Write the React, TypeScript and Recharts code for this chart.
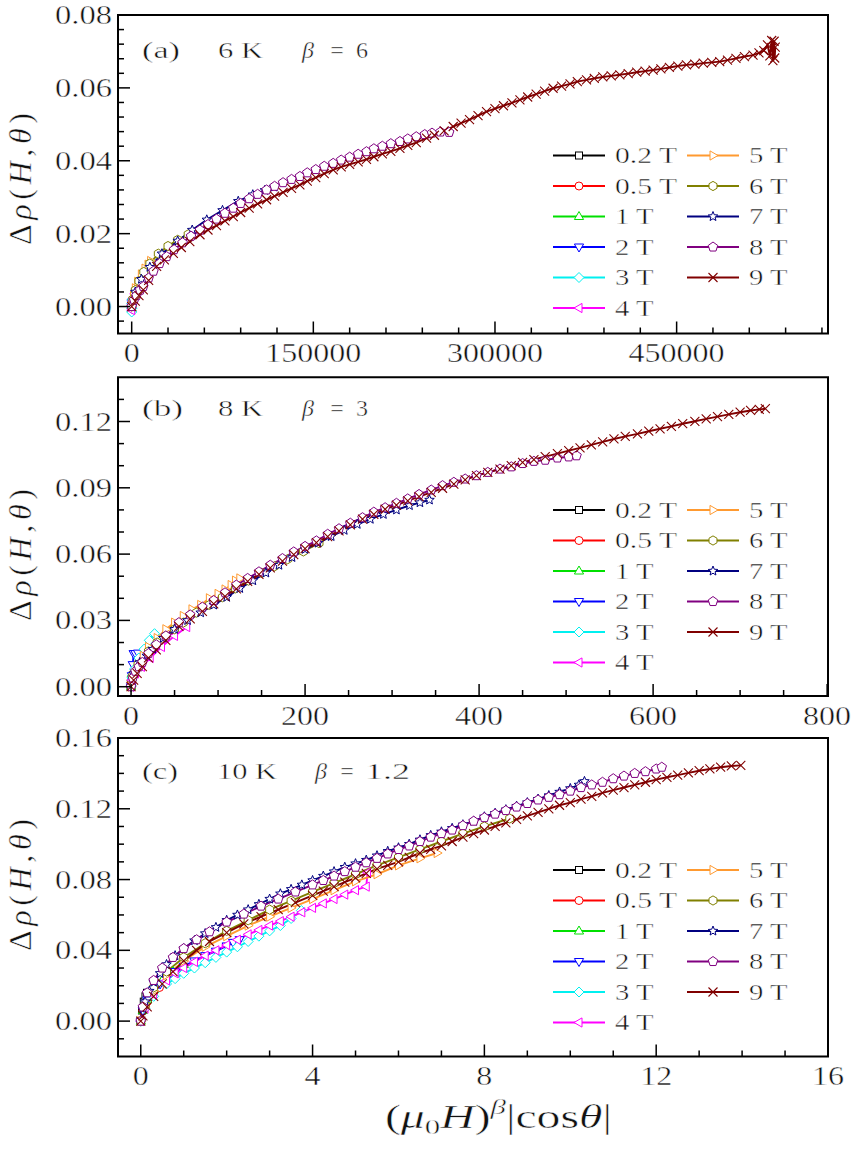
import React from 'react';
import { LineChart, Line, XAxis, YAxis, ReferenceArea } from 'recharts';

type Pt = [number, number];

// ---------- legend / series identity ----------
const FIELD_LABELS = ['0.2 T', '0.5 T', '1 T', '2 T', '3 T', '4 T', '5 T', '6 T', '7 T', '8 T', '9 T'];
const COLORS = ['#000000', '#ff0000', '#00e000', '#0000ff', '#00f0f0', '#ff00ff', '#ff9a30', '#808000', '#000080', '#800080', '#800000'];
const MARKERS = ['square', 'circle', 'triUp', 'triDown', 'diamond', 'triLeft', 'triRight', 'hexagon', 'star', 'pentagon', 'x'];

// ---------- panel (a): 6 K, beta = 6 ----------
const a02: Pt[] = [[0, 0], [0.00002, 0.0002], [0.000064, 0.0003]];
const a05: Pt[] = [[0, 0], [0.008, 0.0004], [0.0156, 0.0006]];
const a1: Pt[] = [[0, -0.0005], [0.5, 0.0003], [1, 0.0008]];
const a2: Pt[] = [[0, -0.001], [20, 0], [40, 0.0008], [64, 0.0012]];
const a3: Pt[] = [[0, -0.0015], [100, -0.0005], [300, 0.0008], [500, 0.0015], [729, 0.002]];
const a4: Pt[] = [[0, -0.001], [300, 0.0005], [800, 0.0015], [1500, 0.0025], [2500, 0.0035], [3300, 0.004], [4096, 0.0048]];
const a5: Pt[] = [[0, 0], [500, 0.001], [1500, 0.003], [3000, 0.005], [5000, 0.0068], [8000, 0.0088], [11000, 0.0104], [13500, 0.0115], [15625, 0.0125]];
const a6: Pt[] = [[0, 0], [1000, 0.002], [3000, 0.0045], [6000, 0.007], [10000, 0.0095], [15000, 0.0118], [22000, 0.0145], [30000, 0.0166], [38000, 0.0183], [46656, 0.0198]];
const a7: Pt[] = [[0, 0], [3000, 0.004], [8000, 0.0075], [15000, 0.0108], [25000, 0.0145], [38000, 0.018], [50000, 0.021], [62000, 0.0238], [75000, 0.0264], [88000, 0.0289], [100000, 0.0307], [110000, 0.0319], [117649, 0.0328]];
const a8: Pt[] = [[0, 0], [2000, 0.0018], [4000, 0.003], [7000, 0.0045], [9600, 0.0055], [14000, 0.0078], [18000, 0.0097], [23000, 0.0118], [28900, 0.0137], [35000, 0.0156], [42000, 0.0175], [49000, 0.0193], [56400, 0.021], [63000, 0.0225], [70000, 0.024], [77000, 0.0256], [83900, 0.027], [90000, 0.0283], [97000, 0.0296], [104000, 0.0308], [111400, 0.032], [118000, 0.033], [125000, 0.034], [132000, 0.0349], [138900, 0.0357], [145000, 0.0367], [152000, 0.0376], [159000, 0.0385], [166400, 0.0393], [173000, 0.0402], [180000, 0.041], [187000, 0.0418], [193900, 0.0425], [200000, 0.0433], [207000, 0.044], [214000, 0.0447], [221500, 0.0453], [228000, 0.046], [235000, 0.0466], [242000, 0.0472], [248000, 0.0476], [255000, 0.0479], [262144, 0.0478]];
const a9: Pt[] = [[0, 0], [3000, 0.0015], [6000, 0.003], [9600, 0.0046], [14000, 0.0072], [20600, 0.011], [27000, 0.0128], [34400, 0.0146], [41000, 0.0162], [48000, 0.0178], [56400, 0.0197], [63000, 0.021], [70000, 0.0222], [77000, 0.0235], [83900, 0.0247], [90000, 0.0258], [97000, 0.027], [104000, 0.0282], [111400, 0.0293], [118000, 0.0303], [125000, 0.0313], [132000, 0.0324], [138900, 0.0334], [145000, 0.0344], [152000, 0.0354], [159000, 0.0365], [166400, 0.0375], [173000, 0.0383], [180000, 0.039], [187000, 0.0397], [193900, 0.0404], [200000, 0.0411], [207000, 0.0419], [214000, 0.0426], [221500, 0.0434], [228000, 0.0442], [235000, 0.045], [243500, 0.0462], [250000, 0.047], [258000, 0.0482], [265500, 0.0494], [272000, 0.0503], [279000, 0.0513], [286000, 0.0524], [293000, 0.0535], [300000, 0.0543], [307000, 0.0551], [314000, 0.0559], [320600, 0.0567], [327000, 0.0575], [334000, 0.0583], [341000, 0.0591], [348000, 0.0599], [355000, 0.0605], [362000, 0.0611], [368000, 0.0617], [375600, 0.0622], [382000, 0.0626], [389000, 0.063], [396000, 0.0633], [403100, 0.0636], [410000, 0.0639], [417000, 0.0643], [424000, 0.0646], [430600, 0.0649], [437000, 0.0652], [444000, 0.0656], [451000, 0.066], [458100, 0.0663], [465000, 0.0665], [472000, 0.0668], [479000, 0.067], [485600, 0.0672], [492000, 0.0676], [499000, 0.0681], [506000, 0.0686], [513100, 0.069], [518000, 0.0696], [522000, 0.0702], [525000, 0.0718], [527000, 0.0688], [528500, 0.073], [529500, 0.0675], [530500, 0.0728], [531000, 0.0682], [531441, 0.0712]];

// ---------- panel (b): 8 K, beta = 3 ----------
const b02: Pt[] = [[0, 0], [0.004, 0.001], [0.008, 0.0015]];
const b05: Pt[] = [[0, 0], [0.06, 0.002], [0.125, 0.003]];
const b1: Pt[] = [[0, 0], [0.3, 0.002], [0.6, 0.004], [1, 0.006]];
const b2: Pt[] = [[0, 0], [1, 0.005], [2, 0.01], [3, 0.015], [5, 0.015], [8, 0.0152]];
const b3: Pt[] = [[0, 0], [1, 0.004], [4, 0.008], [9, 0.013], [15, 0.017], [21, 0.021], [27, 0.024]];
const b4: Pt[] = [[0, 0], [1, 0.003], [5, 0.006], [12, 0.009], [22, 0.013], [35, 0.018], [50, 0.023], [64, 0.027]];
const b5: Pt[] = [[0, 0], [2, 0.005], [8, 0.01], [14, 0.014], [20, 0.018], [30, 0.022], [40, 0.026], [50, 0.029], [60, 0.032], [70, 0.035], [80, 0.037], [90, 0.04], [100, 0.042], [108, 0.044], [115, 0.046], [120, 0.048], [125, 0.049]];
const b6: Pt[] = [[0, 0], [2, 0.005], [8, 0.01], [20, 0.016], [30, 0.02], [40, 0.023], [50, 0.026], [60, 0.029], [75, 0.0335], [90, 0.037], [105, 0.0405], [120, 0.0445], [135, 0.048], [150, 0.0515], [165, 0.0545], [180, 0.0577], [198, 0.0612], [216, 0.065]];
const b7: Pt[] = [[0, 0], [3, 0.006], [10, 0.011], [18, 0.014], [25, 0.017], [37, 0.022], [50, 0.026], [65, 0.03], [80, 0.0335], [95, 0.037], [110, 0.0405], [125, 0.0445], [140, 0.048], [155, 0.0515], [170, 0.055], [185, 0.0585], [200, 0.0622], [215, 0.065], [230, 0.068], [245, 0.0708], [260, 0.0735], [275, 0.0758], [290, 0.078], [305, 0.08], [320, 0.082], [332, 0.0833], [343, 0.0845]];
const b8: Pt[] = [[0, 0], [2, 0.004], [5, 0.007], [9, 0.009], [13, 0.011], [20, 0.015], [29, 0.019], [40, 0.023], [55, 0.029], [68, 0.0325], [82, 0.036], [95, 0.039], [108, 0.0425], [121, 0.046], [134, 0.049], [147, 0.052], [160, 0.055], [174, 0.058], [187, 0.061], [200, 0.0635], [213, 0.066], [226, 0.069], [239, 0.0715], [252, 0.074], [266, 0.0765], [279, 0.079], [292, 0.081], [305, 0.083], [318, 0.085], [331, 0.087], [345, 0.089], [358, 0.091], [371, 0.0925], [384, 0.094], [397, 0.0955], [410, 0.097], [424, 0.0985], [437, 0.0995], [450, 0.101], [463, 0.102], [476, 0.1025], [490, 0.1035], [503, 0.104], [512, 0.1045]];
const b9: Pt[] = [[0, 0], [3, 0.003], [7, 0.006], [13, 0.0091], [20, 0.013], [29, 0.0167], [40, 0.021], [55, 0.0273], [68, 0.0307], [82, 0.0341], [95, 0.0375], [108, 0.0409], [121, 0.0443], [134, 0.0477], [147, 0.0508], [160, 0.0538], [174, 0.0568], [187, 0.0598], [200, 0.0625], [213, 0.0652], [226, 0.0679], [239, 0.0705], [252, 0.0732], [266, 0.0758], [279, 0.078], [292, 0.0803], [305, 0.0822], [318, 0.0841], [331, 0.086], [345, 0.0879], [358, 0.0898], [371, 0.0917], [384, 0.0936], [397, 0.0955], [410, 0.097], [424, 0.0985], [437, 0.1], [450, 0.1015], [463, 0.1028], [476, 0.1041], [490, 0.1055], [503, 0.1068], [516, 0.1081], [529, 0.1094], [542, 0.1108], [555, 0.1121], [568, 0.1133], [582, 0.1144], [595, 0.1156], [608, 0.1167], [621, 0.1178], [634, 0.119], [648, 0.1201], [661, 0.1212], [674, 0.1222], [687, 0.1232], [700, 0.1242], [712, 0.125], [722, 0.1255], [729, 0.1258]];

// ---------- panel (c): 10 K, beta = 1.2 ----------
const c02: Pt[] = [[0, 0], [0.03, 0.006], [0.07, 0.011], [0.11, 0.014], [0.145, 0.016]];
const c05: Pt[] = [[0, 0], [0.05, 0.006], [0.15, 0.011], [0.3, 0.016], [0.435, 0.019]];
const c1: Pt[] = [[0, 0], [0.05, 0.006], [0.15, 0.012], [0.3, 0.018], [0.5, 0.023], [0.75, 0.028], [1, 0.032]];
const c2: Pt[] = [[0, 0], [0.05, 0.006], [0.15, 0.012], [0.3, 0.017], [0.45, 0.021], [0.6, 0.024], [0.8, 0.028], [1, 0.031], [1.25, 0.034], [1.5, 0.037], [1.75, 0.0395], [2, 0.0425], [2.15, 0.0445], [2.3, 0.046]];
const c3: Pt[] = [[0, 0], [0.1, 0.007], [0.3, 0.014], [0.6, 0.021], [0.8, 0.024], [1, 0.027], [1.25, 0.03], [1.5, 0.033], [1.75, 0.036], [2, 0.039], [2.25, 0.042], [2.5, 0.045], [2.75, 0.048], [3, 0.051], [3.25, 0.054], [3.5, 0.058], [3.74, 0.0625]];
const c4: Pt[] = [[0, 0], [0.1, 0.007], [0.3, 0.015], [0.6, 0.023], [0.8, 0.027], [1, 0.03], [1.25, 0.0335], [1.5, 0.037], [1.75, 0.04], [2, 0.043], [2.25, 0.046], [2.5, 0.049], [2.75, 0.0515], [3, 0.054], [3.25, 0.0565], [3.5, 0.059], [3.75, 0.0615], [4, 0.064], [4.25, 0.0665], [4.5, 0.069], [4.75, 0.0715], [5, 0.074], [5.25, 0.076], [5.28, 0.084]];
const c5: Pt[] = [[0, 0], [0.1, 0.008], [0.3, 0.017], [0.6, 0.026], [1, 0.034], [1.5, 0.042], [2, 0.048], [2.5, 0.054], [3, 0.059], [3.5, 0.064], [4, 0.069], [4.5, 0.074], [5, 0.079], [5.5, 0.083], [6, 0.088], [6.5, 0.092], [6.9, 0.095]];
const c6: Pt[] = [[0, 0], [0.1, 0.009], [0.3, 0.019], [0.6, 0.028], [1, 0.036], [1.5, 0.044], [2, 0.051], [2.5, 0.057], [3, 0.063], [3.5, 0.068], [4, 0.073], [4.5, 0.078], [5, 0.083], [5.5, 0.088], [6, 0.0925], [6.5, 0.097], [7, 0.1015], [7.5, 0.106], [8, 0.11], [8.59, 0.1145]];
const c7: Pt[] = [[0, 0], [0.05, 0.007], [0.1, 0.011], [0.2, 0.017], [0.3, 0.022], [0.45, 0.027], [0.6, 0.032], [0.8, 0.037], [1, 0.041], [1.25, 0.0455], [1.5, 0.0495], [1.75, 0.053], [2, 0.057], [2.25, 0.06], [2.5, 0.063], [2.75, 0.066], [3, 0.069], [3.25, 0.072], [3.5, 0.0745], [3.75, 0.077], [4, 0.0795], [4.25, 0.082], [4.5, 0.0845], [4.75, 0.087], [5, 0.089], [5.25, 0.091], [5.5, 0.0935], [5.75, 0.096], [6, 0.098], [6.25, 0.1], [6.5, 0.1025], [6.75, 0.105], [7, 0.107], [7.25, 0.109], [7.5, 0.111], [7.75, 0.113], [8, 0.1155], [8.25, 0.1175], [8.5, 0.1195], [8.75, 0.1215], [9, 0.1235], [9.25, 0.1255], [9.5, 0.1275], [9.75, 0.1295], [10, 0.1315], [10.2, 0.1335], [10.33, 0.1355]];
const c8: Pt[] = [[0, 0], [0.05, 0.008], [0.15, 0.016], [0.3, 0.023], [0.5, 0.03], [0.75, 0.036], [1, 0.041], [1.3, 0.046], [1.6, 0.0505], [2, 0.056], [2.4, 0.0605], [2.8, 0.065], [3.2, 0.069], [3.6, 0.073], [4, 0.077], [4.25, 0.0795], [4.5, 0.082], [4.75, 0.0845], [5, 0.087], [5.25, 0.0895], [5.5, 0.092], [5.75, 0.0945], [6, 0.097], [6.25, 0.099], [6.5, 0.1015], [6.75, 0.104], [7, 0.106], [7.25, 0.108], [7.5, 0.1105], [7.75, 0.113], [8, 0.115], [8.25, 0.117], [8.5, 0.119], [8.75, 0.121], [9, 0.123], [9.25, 0.125], [9.5, 0.1265], [9.75, 0.128], [10, 0.13], [10.25, 0.132], [10.5, 0.1335], [10.75, 0.135], [11, 0.137], [11.25, 0.1385], [11.5, 0.14], [11.75, 0.141], [12, 0.1425], [12.13, 0.1435]];
const c9: Pt[] = [[0, 0], [0.05, 0.003], [0.15, 0.008], [0.3, 0.014], [0.5, 0.021], [0.75, 0.028], [1, 0.034], [1.3, 0.04], [1.6, 0.045], [2, 0.05], [2.4, 0.055], [2.8, 0.059], [3.2, 0.063], [3.6, 0.067], [4, 0.071], [4.25, 0.0735], [4.5, 0.076], [4.75, 0.0785], [5, 0.081], [5.25, 0.0835], [5.5, 0.086], [5.75, 0.088], [6, 0.09], [6.25, 0.0925], [6.5, 0.095], [6.75, 0.097], [7, 0.099], [7.25, 0.1015], [7.5, 0.104], [7.75, 0.106], [8, 0.108], [8.25, 0.11], [8.5, 0.112], [8.75, 0.114], [9, 0.116], [9.25, 0.118], [9.5, 0.12], [9.75, 0.122], [10, 0.1235], [10.25, 0.1255], [10.5, 0.127], [10.75, 0.129], [11, 0.1305], [11.25, 0.132], [11.5, 0.1335], [11.75, 0.135], [12, 0.1365], [12.25, 0.1378], [12.5, 0.139], [12.75, 0.1403], [13, 0.1415], [13.25, 0.1425], [13.5, 0.1435], [13.75, 0.1442], [13.97, 0.1445]];

// ---------- axes: tick values and labels ----------
const aXMajor = [0, 150000, 300000, 450000];
const aXLabels = ['0', '150000', '300000', '450000'];
const aYMajor = [0, 0.02, 0.04, 0.06, 0.08];
const aYLabels = ['0.00', '0.02', '0.04', '0.06', '0.08'];
const bXMajor = [0, 200, 400, 600, 800];
const bXLabels = ['0', '200', '400', '600', '800'];
const bYMajor = [0, 0.03, 0.06, 0.09, 0.12];
const bYLabels = ['0.00', '0.03', '0.06', '0.09', '0.12'];
const cXMajor = [0, 4, 8, 12, 16];
const cXLabels = ['0', '4', '8', '12', '16'];
const cYMajor = [0, 0.04, 0.08, 0.12, 0.16];
const cYLabels = ['0.00', '0.04', '0.08', '0.12', '0.16'];

const FONT = '"Liberation Serif", "Times New Roman", serif';
// a thin white outline slightly lightens the stretched glyphs
const THIN = { stroke: '#ffffff', strokeWidth: 0.45 };

function minorTicks(start: number, end: number, step: number): number[] {
  const out: number[] = [];
  const n = Math.round((end - start) / step);
  for (let i = 0; i <= n; i++) out.push(+(start + i * step).toFixed(8));
  return out;
}

function labelWidth(s: string): number {
  let w = 0;
  for (const ch of s) w += ch === '.' ? 9 : 16;
  return w;
}

function poly(cx: number, cy: number, pts: number[][]): string {
  return pts.map(([dx, dy]) => `${cx + dx},${cy + dy}`).join(' ');
}

function regular(cx: number, cy: number, n: number, r: number, rot: number): string {
  const pts: number[][] = [];
  for (let i = 0; i < n; i++) {
    const a = rot + (i * 2 * Math.PI) / n;
    pts.push([r * Math.cos(a), r * Math.sin(a)]);
  }
  return poly(cx, cy, pts);
}

function starPts(cx: number, cy: number, ro: number, ri: number): string {
  const pts: number[][] = [];
  for (let i = 0; i < 10; i++) {
    const a = -Math.PI / 2 + (i * Math.PI) / 5;
    const r = i % 2 === 0 ? ro : ri;
    pts.push([r * Math.cos(a), r * Math.sin(a)]);
  }
  return poly(cx, cy, pts);
}

function Marker({ cx, cy, kind, color }: { cx: number; cy: number; kind: string; color: string }) {
  if (cx == null || cy == null || isNaN(cx) || isNaN(cy)) return null;
  const c = { fill: '#ffffff', stroke: color, strokeWidth: 1 };
  switch (kind) {
    case 'square':
      return <rect x={cx - 3.5} y={cy - 3.5} width={7} height={7} {...c} />;
    case 'circle':
      return <circle cx={cx} cy={cy} r={4} {...c} />;
    case 'triUp':
      return <polygon points={poly(cx, cy, [[0, -5], [4.6, 3], [-4.6, 3]])} {...c} />;
    case 'triDown':
      return <polygon points={poly(cx, cy, [[0, 5], [4.6, -3], [-4.6, -3]])} {...c} />;
    case 'diamond':
      return <polygon points={poly(cx, cy, [[0, -5], [5, 0], [0, 5], [-5, 0]])} {...c} />;
    case 'triLeft':
      return <polygon points={poly(cx, cy, [[-5, 0], [3, -4.6], [3, 4.6]])} {...c} />;
    case 'triRight':
      return <polygon points={poly(cx, cy, [[5, 0], [-3, -4.6], [-3, 4.6]])} {...c} />;
    case 'hexagon':
      return <polygon points={regular(cx, cy, 6, 4.6, -Math.PI / 2)} {...c} />;
    case 'star':
      return <polygon points={starPts(cx, cy, 5, 2.2)} {...c} />;
    case 'pentagon':
      return <polygon points={regular(cx, cy, 5, 5, -Math.PI / 2)} {...c} />;
    case 'x':
    default:
      return (
        <path d={`M${cx - 4.5},${cy - 4.5}L${cx + 4.5},${cy + 4.5}M${cx - 4.5},${cy + 4.5}L${cx + 4.5},${cy - 4.5}`} stroke={color} strokeWidth={1.1} fill="none" />
      );
  }
}

function isMajorIdx(majors: number[], v: number): number {
  return majors.findIndex((m) => Math.abs(m - v) < 1e-9 * Math.max(1, Math.abs(m)));
}

function makeXTick(majors: number[], labels: string[]) {
  return (props: any) => {
    const { x, y, payload } = props;
    const idx = isMajorIdx(majors, payload.value);
    const len = idx >= 0 ? 12 : 6;
    return (
      <g>
        <line x1={x} y1={y} x2={x} y2={y - len} stroke="#000" strokeWidth={1.5} />
        {idx >= 0 && (
          <text x={x} y={y + 28.5} textAnchor="middle" fontFamily={FONT} fontSize={27} fill="#111" {...THIN}
            textLength={labelWidth(labels[idx])} lengthAdjust="spacingAndGlyphs">
            {labels[idx]}
          </text>
        )}
      </g>
    );
  };
}

function makeYTick(majors: number[], labels: string[]) {
  return (props: any) => {
    const { x, y, payload } = props;
    const idx = isMajorIdx(majors, payload.value);
    const len = idx >= 0 ? 12 : 6;
    return (
      <g>
        <line x1={x} y1={y} x2={x + len} y2={y} stroke="#000" strokeWidth={1.5} />
        {idx >= 0 && (
          <text x={x - 6} y={y + 9} textAnchor="end" fontFamily={FONT} fontSize={27} fill="#111" {...THIN}
            textLength={labelWidth(labels[idx])} lengthAdjust="spacingAndGlyphs">
            {labels[idx]}
          </text>
        )}
      </g>
    );
  };
}

type PanelProps = {
  series: Pt[][];
  xDomain: [number, number];
  yDomain: [number, number];
  xTicks: number[];
  yTicks: number[];
  xMajor: number[];
  xLabels: string[];
  yMajor: number[];
  yLabels: string[];
  height: number;
  top: number;
  bottom: number;
};

function Panel(p: PanelProps) {
  return (
    <LineChart width={855} height={p.height} margin={{ top: p.top, right: 27, bottom: p.bottom, left: 0 }}>
      <XAxis type="number" dataKey="x" domain={p.xDomain} allowDataOverflow ticks={p.xTicks} interval={0}
        tickLine={false} axisLine={false} tickSize={0} tickMargin={0} height={30} tick={makeXTick(p.xMajor, p.xLabels)} />
      <YAxis type="number" domain={p.yDomain} allowDataOverflow ticks={p.yTicks} interval={0}
        tickLine={false} axisLine={false} tickSize={0} tickMargin={0} width={118} tick={makeYTick(p.yMajor, p.yLabels)} />
      <ReferenceArea x1={p.xDomain[0]} x2={p.xDomain[1]} y1={p.yDomain[0]} y2={p.yDomain[1]}
        fill="none" fillOpacity={0} stroke="#000" strokeWidth={2} ifOverflow="visible" />
      {p.series.map((s, i) => (
        <Line key={FIELD_LABELS[i]} data={s.map(([x, y]) => ({ x, y }))} dataKey="y" type="linear"
          stroke={COLORS[i]} strokeWidth={1.9} isAnimationActive={false} activeDot={false} legendType="none"
          dot={(d: any) => <Marker key={`${i}-${d.index}`} cx={d.cx} cy={d.cy} kind={MARKERS[i]} color={COLORS[i]} />} />
      ))}
    </LineChart>
  );
}

function Legend({ rowTop }: { rowTop: number }) {
  const items: React.ReactNode[] = [];
  FIELD_LABELS.forEach((lab, i) => {
    const col = i < 6 ? 0 : 1;
    const row = i < 6 ? i : i - 6;
    const y = rowTop + row * 30.5;
    const x0 = col === 0 ? 553 : 687;
    items.push(
      <g key={lab}>
        <line x1={x0} y1={y} x2={x0 + 52} y2={y} stroke={COLORS[i]} strokeWidth={2} />
        <Marker cx={x0 + 26} cy={y} kind={MARKERS[i]} color={COLORS[i]} />
        <text x={x0 + 62} y={y + 7.8} fontFamily={FONT} fontSize={23} fill="#111" {...THIN}
          textLength={lab.length > 3 ? 62 : 38.5} lengthAdjust="spacingAndGlyphs">{lab}</text>
      </g>
    );
  });
  return <g>{items}</g>;
}

type Piece = { t: string; x: number; w?: number; italic?: boolean };

function Annot({ pieces, base }: { pieces: Piece[]; base: number }) {
  return (
    <g>
      {pieces.map((pc, k) => (
        <text key={k} x={pc.x} y={base} fontFamily={FONT} fontSize={24} fill="#111" {...THIN}
          fontStyle={pc.italic ? 'italic' : 'normal'}
          textAnchor={pc.w ? 'start' : 'middle'}
          {...(pc.w ? { textLength: pc.w, lengthAdjust: 'spacingAndGlyphs' } : {})}>
          {pc.t}
        </text>
      ))}
    </g>
  );
}

function YLabel({ cx, cy }: { cx: number; cy: number }) {
  return (
    <text transform={`translate(${cx},${cy}) rotate(-90)`} textAnchor="middle" fontFamily={FONT} fontSize={32}
      fill="#111" {...THIN} textLength={132} lengthAdjust="spacing">
      <tspan>Δ</tspan>
      <tspan fontStyle="italic">ρ</tspan>
      <tspan>(</tspan>
      <tspan fontStyle="italic">H</tspan>
      <tspan>,</tspan>
      <tspan fontStyle="italic">θ</tspan>
      <tspan>)</tspan>
    </text>
  );
}

export default function App() {
  const aSeries = [a02, a05, a1, a2, a3, a4, a5, a6, a7, a8, a9];
  const bSeries = [b02, b05, b1, b2, b3, b4, b5, b6, b7, b8, b9];
  const cSeries = [c02, c05, c1, c2, c3, c4, c5, c6, c7, c8, c9];

  return (
    <div style={{ position: 'absolute', left: 0, top: 0, width: 855, height: 1150, background: '#fff', overflow: 'hidden' }}>
      <div style={{ position: 'absolute', left: 0, top: 0 }}>
        <Panel series={aSeries} xDomain={[-11300, 575000]} yDomain={[-0.0074, 0.08]}
          xTicks={minorTicks(0, 570000, 30000)} yTicks={minorTicks(-0.004, 0.08, 0.004)}
          xMajor={aXMajor} xLabels={aXLabels} yMajor={aYMajor} yLabels={aYLabels}
          height={375} top={15} bottom={11.5} />
      </div>
      <div style={{ position: 'absolute', left: 0, top: 355 }}>
        <Panel series={bSeries} xDomain={[-15, 801]} yDomain={[-0.0042, 0.14]}
          xTicks={minorTicks(0, 800, 50)} yTicks={minorTicks(0, 0.13, 0.01)}
          xMajor={bXMajor} xLabels={bXLabels} yMajor={bYMajor} yLabels={bYLabels}
          height={385} top={22.3} bottom={14} />
      </div>
      <div style={{ position: 'absolute', left: 0, top: 712 }}>
        <Panel series={cSeries} xDomain={[-0.53, 16]} yDomain={[-0.02, 0.16]}
          xTicks={minorTicks(0, 16, 1)} yTicks={minorTicks(-0.01, 0.16, 0.01)}
          xMajor={cXMajor} xLabels={cXLabels} yMajor={cYMajor} yLabels={cYLabels}
          height={438} top={26} bottom={63.5} />
      </div>
      <svg width={855} height={1150} style={{ position: 'absolute', left: 0, top: 0, pointerEvents: 'none' }}>
        <Legend rowTop={155.5} />
        <Legend rowTop={510} />
        <Legend rowTop={870} />
        <Annot base={58} pieces={[{ t: '(a)', x: 142, w: 38 }, { t: '6 K', x: 218, w: 45 }, { t: 'β', x: 308, italic: true }, { t: '=', x: 337 }, { t: '6', x: 362 }]} />
        <Annot base={416} pieces={[{ t: '(b)', x: 142, w: 41 }, { t: '8 K', x: 218, w: 45 }, { t: 'β', x: 308, italic: true }, { t: '=', x: 337 }, { t: '3', x: 362 }]} />
        <Annot base={779} pieces={[{ t: '(c)', x: 142, w: 36 }, { t: '10 K', x: 217, w: 60 }, { t: 'β', x: 321, italic: true }, { t: '=', x: 347 }, { t: '1.2', x: 365, w: 45 }]} />
        <YLabel cx={31} cy={179} />
        <YLabel cx={31} cy={555} />
        <YLabel cx={31} cy={885} />
        <text x={385} y={1128} fontFamily={FONT} fontSize={34} fill="#111" {...THIN} textLength={227} lengthAdjust="spacingAndGlyphs">
          <tspan>(</tspan>
          <tspan fontStyle="italic">μ</tspan>
          <tspan fontSize={22} dy={6}>0</tspan>
          <tspan dy={-6} fontStyle="italic">H</tspan>
          <tspan>)</tspan>
          <tspan fontSize={22} dy={-14} fontStyle="italic">β</tspan>
          <tspan dy={14}>|cos</tspan>
          <tspan fontStyle="italic">θ</tspan>
          <tspan>|</tspan>
        </text>
      </svg>
    </div>
  );
}
